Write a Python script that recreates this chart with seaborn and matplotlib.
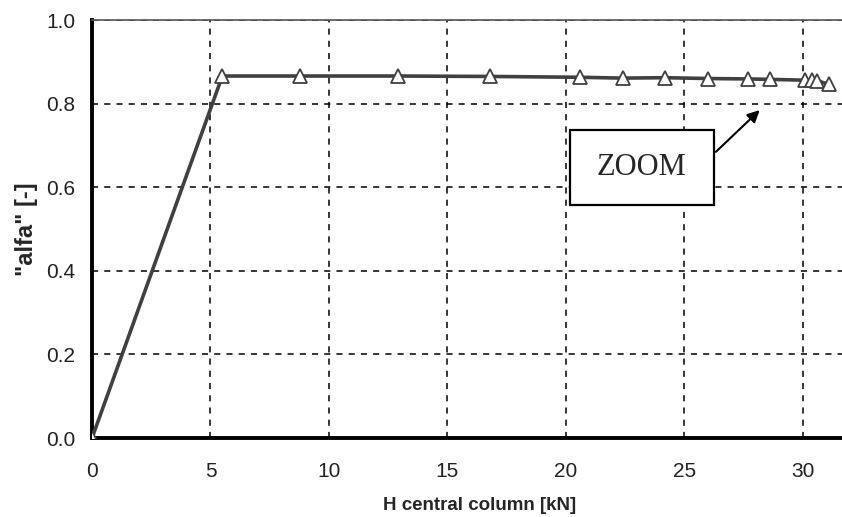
import matplotlib
matplotlib.use("Agg")
import matplotlib.pyplot as plt
from matplotlib.patches import Rectangle
import seaborn as sns
import pandas as pd

# values
h_kn = [0.0, 5.5, 8.8, 12.9, 16.8, 20.6, 22.4, 24.2, 26.0, 27.7, 28.6, 30.1, 30.4, 30.6, 31.1]
alfa = [0.0, 0.866, 0.866, 0.866, 0.865, 0.863, 0.861, 0.862, 0.860, 0.859, 0.858, 0.856, 0.856, 0.855, 0.846]
x_ticks = [0, 5, 10, 15, 20, 25, 30]
y_ticks = [0.0, 0.2, 0.4, 0.6, 0.8, 1.0]

df = pd.DataFrame({"H": h_kn, "alfa": alfa})

sns.set_style("white")
plt.rcParams["font.family"] = ["Liberation Sans", "DejaVu Sans"]

fig = plt.figure(figsize=(8.42, 5.17), dpi=100)
ax = fig.add_axes([0.1093, 0.1528, 0.92, 0.8085])

sns.lineplot(data=df, x="H", y="alfa", ax=ax, color="#404040", linewidth=2.6,
             marker="^", markersize=10, markerfacecolor="white",
             markeredgecolor="#404040", markeredgewidth=1.3, sort=False, zorder=5)

ax.set_xlim(0, 32.7)
ax.set_ylim(0, 1.0)
ax.set_xticks(x_ticks)
ax.set_yticks(y_ticks)
ax.set_xticklabels([str(t) for t in x_ticks])
ax.set_yticklabels([f"{t:.1f}" for t in y_ticks])
ax.grid(True, color="black", linestyle=(0, (4, 4)), linewidth=1.1)

for side in ["left", "bottom"]:
    ax.spines[side].set_color("black")
    ax.spines[side].set_linewidth(2.8)
ax.spines["top"].set_color("#555555")
ax.spines["top"].set_linewidth(1.2)
ax.spines["right"].set_visible(False)
ax.tick_params(axis="both", direction="out", length=5, width=2.5, color="black",
               labelsize=15, labelcolor="#222222")
ax.tick_params(axis="x", pad=12)
ax.tick_params(axis="y", pad=7)

ax.set_xlabel("H central column [kN]", fontsize=13.5, fontweight="bold", labelpad=12)
ax.set_ylabel('"alfa" [-]', fontsize=17, fontweight="bold", labelpad=6)

# ZOOM callout
ax.add_patch(Rectangle((20.17, 0.557), 6.07, 0.18, facecolor="white",
                       edgecolor="black", linewidth=1.6, zorder=6))
ax.text(23.2, 0.648, "ZOOM", fontsize=22, family=["Liberation Serif", "DejaVu Serif"],
        ha="center", va="center", zorder=7)
ax.annotate("", xy=(28.27, 0.789), xytext=(26.25, 0.68),
            arrowprops=dict(arrowstyle="-|>", color="black", lw=1.5,
                            mutation_scale=18), zorder=7)

fig.savefig("out.png", dpi=100)
